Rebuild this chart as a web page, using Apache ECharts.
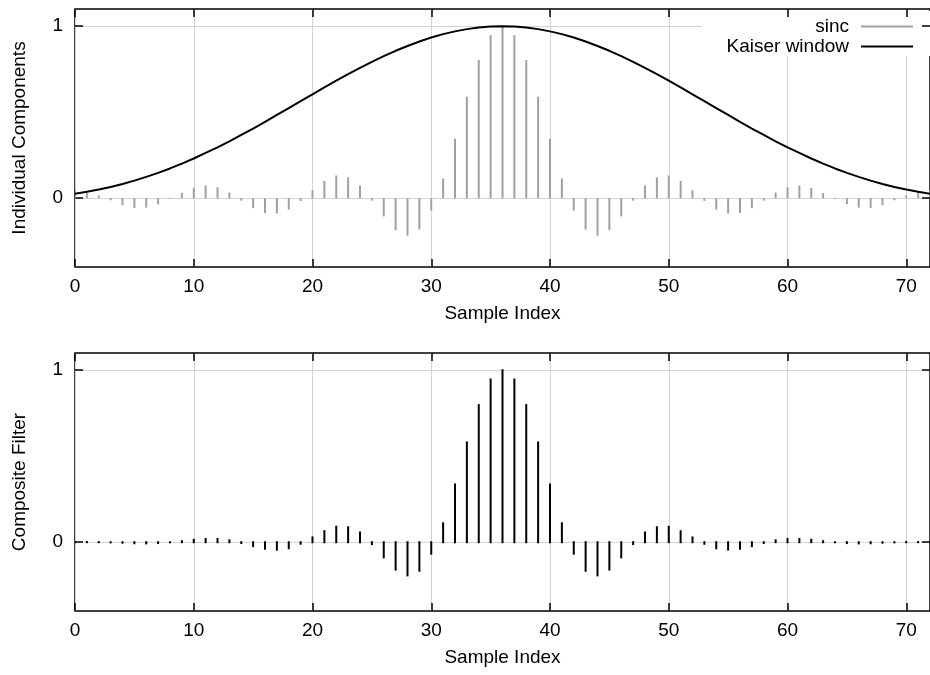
<!DOCTYPE html>
<html><head><meta charset="utf-8">
<script src="https://cdn.jsdelivr.net/npm/echarts@6/dist/echarts.min.js"></script>
<style>html,body{margin:0;padding:0;background:#fff}#c{width:930px;height:675px}</style>
</head><body><div id="c"></div>
<script>
const sampleIndex = [0,1,2,3,4,5,6,7,8,9,10,11,12,13,14,15,16,17,18,19,20,21,22,23,24,25,26,27,28,29,30,31,32,33,34,35,36,37,38,39,40,41,42,43,44,45,46,47,48,49,50,51,52,53,54,55,56,57,58,59,60,61,62,63,64,65,66,67,68,69,70,71,72];

const sincValues = [0.046,0.036,0.016,-0.012,-0.040,-0.057,-0.055,-0.035,-0.004,0.030,0.060,0.074,0.064,0.033,-0.014,-0.058,-0.086,-0.089,-0.066,-0.016,0.046,0.100,0.132,0.121,0.074,-0.014,-0.106,-0.186,-0.218,-0.182,-0.072,0.115,0.345,0.590,0.803,0.948,
  1.000,
  0.948,0.803,0.590,0.345,0.115,-0.072,-0.182,-0.218,-0.186,-0.106,-0.014,0.074,0.121,0.132,0.100,0.046,-0.016,-0.066,-0.089,-0.086,-0.058,-0.014,0.033,0.064,0.074,0.060,0.030,-0.004,-0.035,-0.055,-0.057,-0.040,-0.012,0.016,0.036,0.046];

const kaiserValues = [0.026,0.037,0.050,0.065,0.083,0.102,0.124,0.147,0.173,0.201,0.231,0.263,0.296,0.331,0.368,0.405,0.444,0.484,0.524,0.564,0.604,0.644,0.683,0.721,0.758,0.793,0.826,0.857,0.885,0.911,0.934,0.954,0.970,0.983,0.992,0.998,
  1.000,
  0.998,0.992,0.983,0.970,0.954,0.934,0.911,0.885,0.857,0.826,0.793,0.758,0.721,0.683,0.644,0.604,0.564,0.524,0.484,0.444,0.405,0.368,0.331,0.296,0.263,0.231,0.201,0.173,0.147,0.124,0.102,0.083,0.065,0.050,0.037,0.026];

const compositeValues = [0.001,0.001,0.001,-0.001,-0.003,-0.006,-0.007,-0.005,-0.001,0.006,0.014,0.019,0.019,0.011,-0.005,-0.023,-0.038,-0.043,-0.035,-0.009,0.028,0.064,0.090,0.087,0.056,-0.011,-0.088,-0.159,-0.193,-0.166,-0.067,0.110,0.335,0.580,0.797,0.946,
  1.000,
  0.946,0.797,0.580,0.335,0.110,-0.067,-0.166,-0.193,-0.159,-0.088,-0.011,0.056,0.087,0.090,0.064,0.028,-0.009,-0.035,-0.043,-0.038,-0.023,-0.005,0.011,0.019,0.019,0.014,0.006,-0.001,-0.005,-0.007,-0.006,-0.003,-0.001,0.001,0.001,0.001];

const xTicks = [0,10,20,30,40,50,60,70];
const yTicks = [0,1];
const xLabel = 'Sample Index';
const yLabelTop = 'Individual Components';
const yLabelBottom = 'Composite Filter';

const FONT = 'Liberation Sans, Arial, Helvetica, sans-serif';
const FS = 19;
const X_MIN = 0, X_MAX = 72, Y_MIN = -0.4, Y_MAX = 1.1;

function mainX(gridIndex) {
  return {
    type: 'value', gridIndex, position: 'bottom', min: X_MIN, max: X_MAX, interval: 10,
    name: xLabel, nameLocation: 'middle', nameGap: 37,
    nameTextStyle: { fontFamily: FONT, fontSize: FS, color: '#000' },
    axisLine: { show: false, onZero: false },
    axisTick: { show: true, inside: true, length: 8, customValues: xTicks, lineStyle: { color: '#000', width: 1.5 } },
    axisLabel: { customValues: xTicks, margin: 10, fontFamily: FONT, fontSize: FS, color: '#000' },
    splitLine: { show: true, lineStyle: { color: '#d4d4d4', width: 1 } },
    z: 0
  };
}
function mirrorX(gridIndex) {
  return {
    type: 'value', gridIndex, position: 'top', min: X_MIN, max: X_MAX, interval: 10,
    axisLine: { show: false, onZero: false },
    axisTick: { show: true, inside: true, length: 8, customValues: xTicks, lineStyle: { color: '#000', width: 1.5 } },
    axisLabel: { show: false }, splitLine: { show: false }, z: 3
  };
}
function mainY(gridIndex, name) {
  return {
    type: 'value', gridIndex, position: 'left', min: Y_MIN, max: Y_MAX,
    name, nameLocation: 'middle', nameGap: 46,
    nameTextStyle: { fontFamily: FONT, fontSize: FS, color: '#000' },
    axisLine: { show: false, onZero: false },
    axisTick: { show: true, inside: true, length: 8, customValues: yTicks, lineStyle: { color: '#000', width: 1.5 } },
    axisLabel: { customValues: yTicks, margin: 12, fontFamily: FONT, fontSize: FS, color: '#000' },
    splitLine: { show: true, lineStyle: { color: '#d4d4d4', width: 1 } },
    z: 0
  };
}
function mirrorY(gridIndex) {
  return {
    type: 'value', gridIndex, position: 'right', min: Y_MIN, max: Y_MAX,
    axisLine: { show: false, onZero: false },
    axisTick: { show: true, inside: true, length: 8, customValues: yTicks, lineStyle: { color: '#000', width: 1.5 } },
    axisLabel: { show: false }, splitLine: { show: false }, z: 3
  };
}
function stemRender(color, width, cap) {
  return function (params, api) {
    const x = api.value(0), v = api.value(1);
    const p0 = api.coord([x, 0]);
    const p1 = api.coord([x, v]);
    return {
      type: 'line',
      shape: { x1: p0[0], y1: p0[1], x2: p1[0], y2: p1[1] },
      style: { stroke: color, lineWidth: width, lineCap: cap }
    };
  };
}

const chart = echarts.init(document.getElementById('c'), null, { renderer: 'canvas' });
chart.setOption({
  animation: false,
  backgroundColor: '#fff',
  textStyle: { fontFamily: FONT },
  grid: [
    { left: 75, top: 9, width: 861, height: 258, show: true, borderColor: '#000', borderWidth: 1.5, backgroundColor: 'transparent' },
    { left: 75, top: 353, width: 861, height: 258, show: true, borderColor: '#000', borderWidth: 1.5, backgroundColor: 'transparent' }
  ],
  xAxis: [mainX(0), mirrorX(0), mainX(1), mirrorX(1)],
  yAxis: [mainY(0, yLabelTop), mirrorY(0), mainY(1, yLabelBottom), mirrorY(1)],
  legend: [
    { data: [{ name: 'sinc', icon: 'rect' }], right: 17, top: 17, orient: 'vertical', align: 'right', padding: 0,
      itemWidth: 52, itemHeight: 2, textStyle: { fontFamily: FONT, fontSize: FS, color: '#000', padding: [0, 7, 0, 0] }, selectedMode: false, z: 5 },
    { data: [{ name: 'Kaiser window', icon: 'rect' }], right: 17, top: 37, orient: 'vertical', align: 'right', padding: 0,
      itemWidth: 52, itemHeight: 2, textStyle: { fontFamily: FONT, fontSize: FS, color: '#000', padding: [0, 7, 0, 0] }, selectedMode: false, z: 5 }
  ],
  graphic: [
    { type: 'rect', left: 702, top: 11, shape: { width: 228, height: 45 }, style: { fill: '#fff' }, z: 1, silent: true }
  ],
  series: [
    {
      name: 'sinc', type: 'custom', xAxisIndex: 0, yAxisIndex: 0,
      itemStyle: { color: '#a0a0a0' },
      renderItem: stemRender('#a0a0a0', 2, 'butt'),
      encode: { x: 0, y: 1 }, clip: true, z: 2,
      data: sampleIndex.map((x, i) => [x, sincValues[i]])
    },
    {
      name: 'Kaiser window', type: 'line', xAxisIndex: 0, yAxisIndex: 0,
      showSymbol: false, symbol: 'none', smooth: false,
      itemStyle: { color: '#000' },
      lineStyle: { color: '#000', width: 2 }, z: 3,
      data: sampleIndex.map((x, i) => [x, kaiserValues[i]])
    },
    {
      name: 'composite', type: 'custom', xAxisIndex: 2, yAxisIndex: 2,
      itemStyle: { color: '#000' },
      renderItem: stemRender('#000', 2, 'square'),
      encode: { x: 0, y: 1 }, clip: true, z: 2,
      data: sampleIndex.map((x, i) => [x, compositeValues[i]])
    }
  ]
});
</script>
</body></html>
